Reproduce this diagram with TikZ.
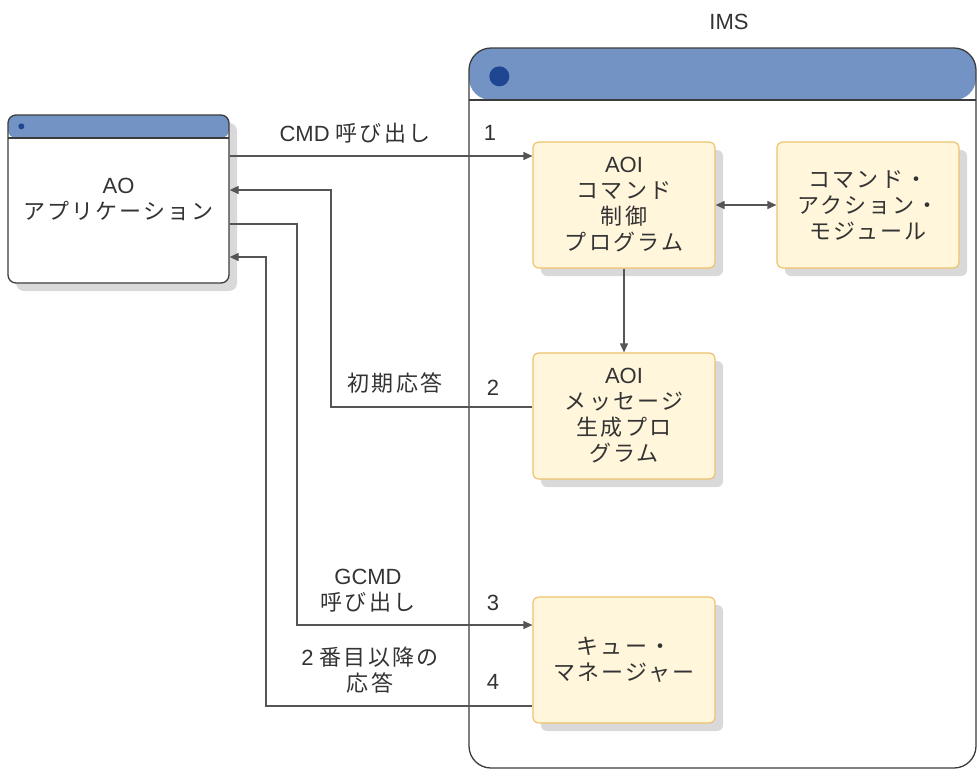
\documentclass[tikz,border=0pt]{standalone}
\usepackage{fontspec}
\setmainfont{Liberation Sans}
\newfontfamily\jpfont{Noto Sans CJK JP}[LetterSpace=10]
\newcommand{\jp}[1]{{\jpfont #1}}
\usetikzlibrary{arrows.meta,shadows}
\definecolor{hdrblue}{HTML}{7393C4}
\definecolor{dotblue}{HTML}{1F4690}
\definecolor{winline}{HTML}{3C3C3C}
\definecolor{boxfill}{HTML}{FFF6DC}
\definecolor{boxline}{HTML}{EFC36C}
\definecolor{shade}{HTML}{D9D9D9}
\definecolor{lineg}{HTML}{555555}
\definecolor{txt}{HTML}{333333}
\tikzset{
  win/.style 2 args={draw=winline, line width=1.3pt, fill=white, rounded corners=#1,
    inner sep=0pt, align=center, text=txt,
    path picture={\fill[hdrblue] (path picture bounding box.north west) rectangle ([yshift=-#2]path picture bounding box.north east);
      \draw[winline, line width=1.3pt] ([yshift=-#2]path picture bounding box.north west) -- ([yshift=-#2]path picture bounding box.north east);}},
  prog/.style={draw=boxline, line width=1.2pt, fill=boxfill, rounded corners=6pt,
    minimum width=182pt, minimum height=126pt, inner sep=0pt, align=center, text=txt,
    drop shadow={shadow xshift=8pt, shadow yshift=-8pt, fill=shade, opacity=1}},
  lbl/.style={text=txt, align=center, inner sep=0pt},
  conn/.style={draw=lineg, line width=1.2pt, -{Triangle[length=9pt,width=8pt]}}
}
\begin{document}
\begin{tikzpicture}[x=1pt,y=-1pt,font=\fontsize{22}{26}\selectfont]
\useasboundingbox (0,0) rectangle (978,772);
% windows
\node[win={8pt}{23pt}, minimum width=221pt, minimum height=168pt,
  drop shadow={shadow xshift=8pt, shadow yshift=-8pt, fill=shade, opacity=1}]
  (ao) at (118.5,199) {AO\\\jp{アプリケーション}};
\fill[dotblue] ([xshift=14pt,yshift=-12pt]ao.north west) circle (3pt);
\node[win={22pt}{52pt}, minimum width=507pt, minimum height=720pt] (ims) at (722.5,408) {};
\fill[dotblue] ([xshift=31pt,yshift=-29pt]ims.north west) circle (10pt);
\node[lbl] (imstxt) at (729,22) {IMS};
% programs
\node[prog] (aoicmd) at (624,205) {AOI\\\jp{コマンド}\\\jp{制御}\\\jp{プログラム}};
\node[prog] (cam) at (868,205) {\jp{コマンド・}\\\jp{アクション・}\\\jp{モジュール}};
\node[prog] (aoimsg) at (624,416) {AOI\\\jp{メッセージ}\\\jp{生成プロ}\\\jp{グラム}};
\node[prog] (qmgr) at (624,660) {\jp{キュー・}\\\jp{マネージャー}};
% helper points
\coordinate (c1) at (0,156);
\coordinate (r1) at (331,190);
\coordinate (c3) at (297,625);
\coordinate (r4) at (266,257);
% connectors
\draw[conn] (ao.east |- c1) -- (aoicmd.west |- c1);
\draw[conn, {Triangle[length=9pt,width=8pt]}-{Triangle[length=9pt,width=8pt]}] (aoicmd) -- (cam);
\draw[conn] (aoicmd) -- (aoimsg);
\draw[conn] (aoimsg.west |- 0,407) -| (r1) -- (ao.east |- r1);
\draw[conn] (ao.east |- 0,224) -| (c3) -- (qmgr.west |- c3);
\draw[conn] (qmgr.west |- 0,706) -| (r4) -- (ao.east |- r4);
% labels
\node[lbl] (l1) at (355,133) {CMD \jp{呼び出し}};
\node[lbl] (n1) at (490,133) {1};
\node[lbl] (l2) at (395,383) {\jp{初期応答}};
\node[lbl] (n2) at (493,388) {2};
\node[lbl] (l3) at (368,591) {GCMD\\\jp{呼び出し}};
\node[lbl] (n3) at (493,603) {3};
\node[lbl] (l4) at (370,670) {2 \jp{番目以降の}\\\jp{応答}};
\node[lbl] (n4) at (493,682) {4};
\end{tikzpicture}
\end{document}
